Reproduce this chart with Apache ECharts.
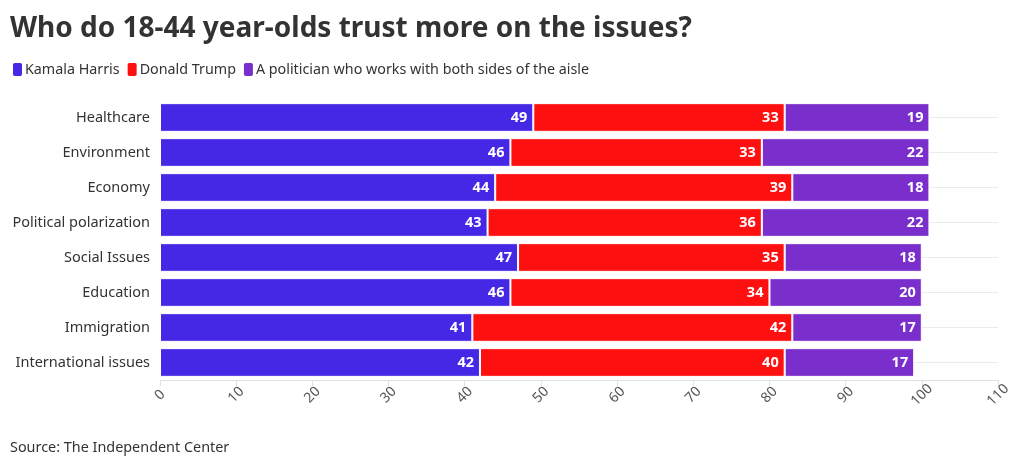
<!DOCTYPE html>
<html><head><meta charset="utf-8">
<script src="https://cdn.jsdelivr.net/npm/echarts@6/dist/echarts.min.js"></script>
<style>html,body{margin:0;padding:0;background:#fff}#c{width:1020px;height:466px}</style>
</head><body><div id="c"></div>
<script>
const categories = ["Healthcare","Environment","Economy","Political polarization","Social Issues","Education","Immigration","International issues"];
const harris = [49,46,44,43,47,46,41,42];
const trump = [33,33,39,36,35,34,42,40];
const bipartisan = [19,22,18,22,18,20,17,17];
const seriesNames = ["Kamala Harris","Donald Trump","A politician who works with both sides of the aisle"];
const xTicks = {min:0, max:110, interval:10};

const font = "'Noto Sans', sans-serif";
const colors = ["#4428e6","#fe1010","#7a2fcc"];
const chart = echarts.init(document.getElementById('c'), null, {renderer:'canvas'});
function mk(name, data, color, withLines){
  const s = {
    name, type:'bar', stack:'t', data, barCategoryGap:'18%',
    itemStyle:{color, borderColor:'#fff', borderWidth:1},
    label:{show:true, position:'insideRight', color:'#fff', fontWeight:'bold', fontSize:14.5, fontFamily:font, distance:6},
    z:3
  };
  if (withLines) {
    s.markLine = {silent:true, symbol:'none', label:{show:false},
      lineStyle:{color:'#ebebeb', type:'solid', width:1},
      data: categories.map(c => ({yAxis:c})), z:1};
  }
  return s;
}
chart.setOption({
  animation:false,
  title:{text:"Who do 18-44 year-olds trust more on the issues?", left:5, top:10,
    textStyle:{fontFamily:font, fontSize:28, fontWeight:'bold', color:'#333'}},
  legend:{left:11, top:61, padding:0, itemWidth:11, itemHeight:15, itemGap:6, icon:'roundRect',
    textStyle:{fontFamily:font, fontSize:14.3, color:'#333', padding:[0,0,0,-3]},
    data:seriesNames},
  grid:{left:160, right:22, top:100, bottom:86, containLabel:false},
  xAxis:{type:'value', min:xTicks.min, max:xTicks.max, interval:xTicks.interval,
    axisLine:{show:true, lineStyle:{color:'#e0e0e0'}},
    axisTick:{show:true, length:6, lineStyle:{color:'#e0e0e0'}},
    splitLine:{show:false},
    axisLabel:{rotate:45, color:'#555', fontSize:14, fontFamily:font, margin:15, align:'center', verticalAlign:'middle'}},
  yAxis:{type:'category', data:categories, inverse:true,
    axisLine:{show:false}, axisTick:{show:false}, splitLine:{show:false},
    axisLabel:{color:'#333', fontSize:14.5, fontFamily:font, margin:10}},
  graphic:[{type:'text', left:10, top:441, style:{text:"Source: The Independent Center", fill:'#333', font:"14.4px "+font}}],
  series:[mk(seriesNames[0], harris, colors[0], true), mk(seriesNames[1], trump, colors[1]), mk(seriesNames[2], bipartisan, colors[2])]
});
</script></body></html>
